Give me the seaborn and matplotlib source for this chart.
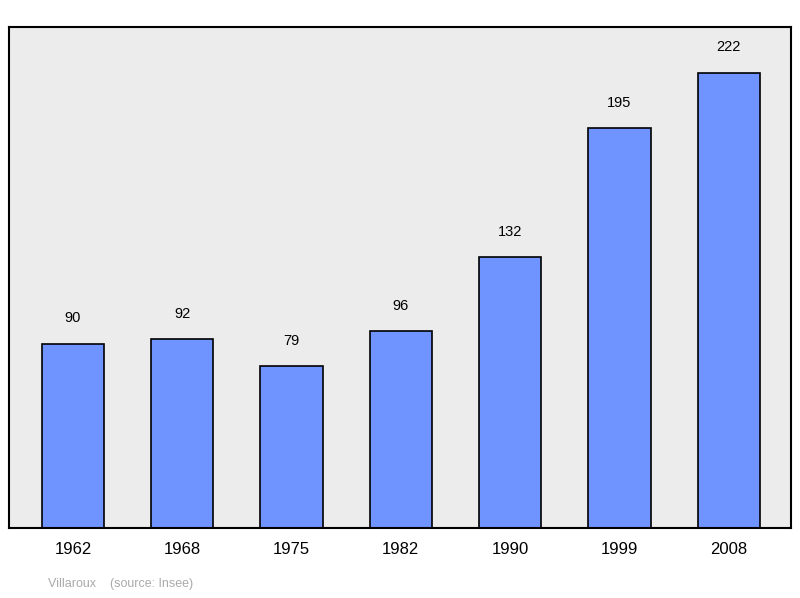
import matplotlib
matplotlib.use("Agg")
import matplotlib.pyplot as plt
import seaborn as sns
import pandas as pd

years = ["1962", "1968", "1975", "1982", "1990", "1999", "2008"]
population = [90, 92, 79, 96, 132, 195, 222]

df = pd.DataFrame({"year": years, "pop": population})

plt.rcParams['font.family'] = ['Liberation Sans', 'DejaVu Sans']
fig = plt.figure(figsize=(8, 5.98), dpi=100)
ax = fig.add_axes([9/800, 1-528/598, 782/800, 501/598])
ax.set_facecolor("#ececec")
sns.barplot(data=df, x="year", y="pop", ax=ax, color="#7094ff", saturation=1,
            width=0.57, edgecolor="black", linewidth=1.2)
for i, v in enumerate(population):
    ax.text(i, v + 9, str(v), ha="center", va="bottom", fontsize=10.5)
ax.set_xlim(-0.585, 6.57)
ax.set_ylim(0, 244.4)
ax.set_yticks([])
ax.set_xlabel("")
ax.set_ylabel("")
ax.tick_params(axis="x", length=0, labelsize=12, pad=10)
for s in ax.spines.values():
    s.set_linewidth(1.5)
    s.set_color("black")
fig.text(48/800, 1-584/598, "Villaroux    (source: Insee)", color="#aaaaaa", fontsize=9, va="center")
fig.savefig("out.png", dpi=100)
